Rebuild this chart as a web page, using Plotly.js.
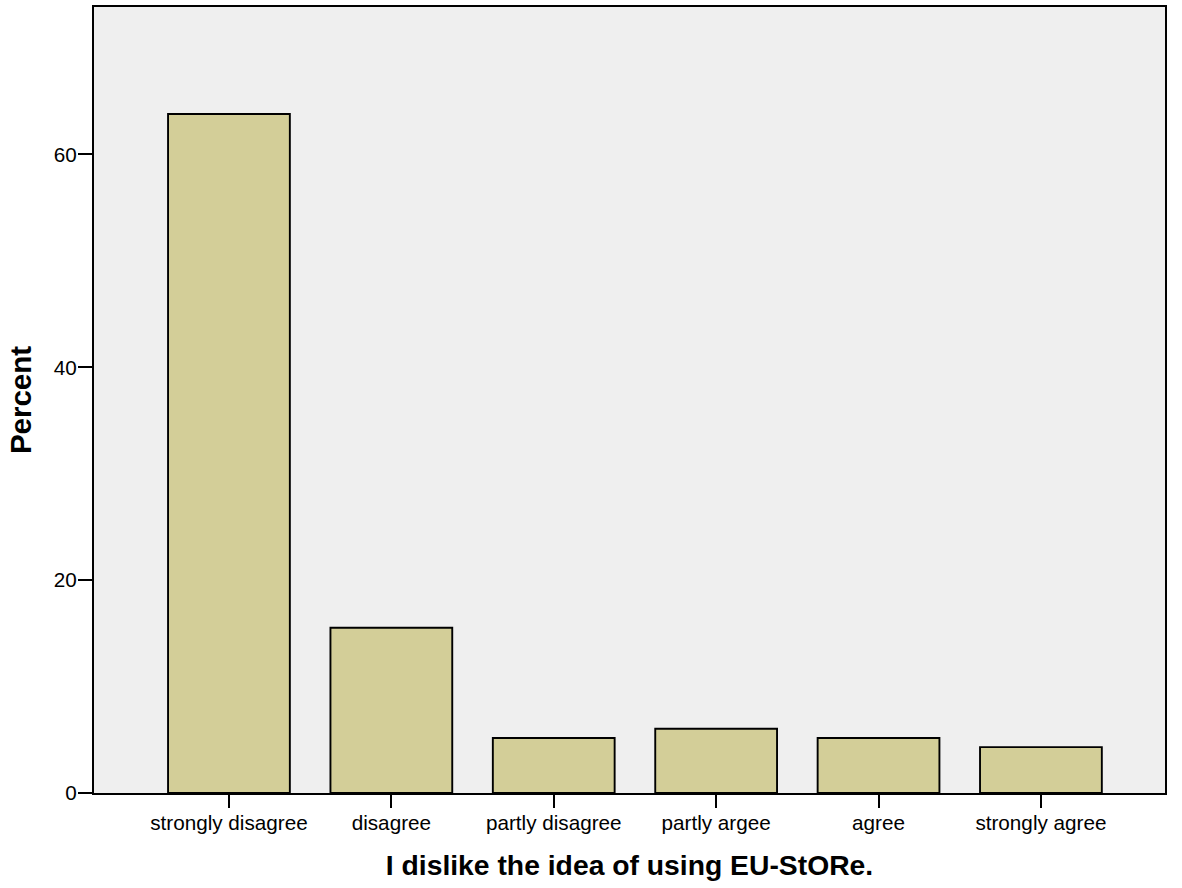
<!DOCTYPE html>
<html>
<head>
<meta charset="utf-8">
<script src="https://cdn.plot.ly/plotly-3.0.1.min.js"></script>
<style>html,body{margin:0;padding:0;background:#fff;}#chart{width:1182px;height:888px;}</style>
</head>
<body>
<div id="chart"></div>
<script>
var categories = ["strongly disagree", "disagree", "partly disagree", "partly argee", "agree", "strongly agree"];
var percentValues = [63.79, 15.52, 5.17, 6.03, 5.17, 4.31];
var yTickValues = [0, 20, 40, 60];
var yTickLabels = ["0", "20", "40", "60"];

var trace = {
  type: "bar",
  x: categories,
  y: percentValues,
  marker: {color: "#D3CE98", line: {color: "#000000", width: 1.9}},
  hoverinfo: "x+y"
};

var layout = {
  width: 1182,
  height: 888,
  margin: {l: 94, r: 17, t: 7, b: 95},
  paper_bgcolor: "#ffffff",
  plot_bgcolor: "#EFEFEF",
  bargap: 0.25,
  showlegend: false,
  font: {family: "Liberation Sans, Arial, sans-serif", color: "#000"},
  xaxis: {
    type: "category",
    range: [-0.831, 5.764],
    showline: true, linecolor: "#000", linewidth: 2, mirror: true,
    ticks: "outside", ticklen: 13, tickwidth: 2, tickcolor: "#000",
    ticklabelstandoff: -3,
    tickfont: {size: 20.7, family: "Liberation Sans, Arial, sans-serif"},
    showgrid: false, zeroline: false,
    title: {text: "<b>I dislike the idea of using EU-StORe.</b>", font: {size: 28.3, family: "Liberation Sans, Arial, sans-serif"}, standoff: 22}
  },
  yaxis: {
    range: [0, 73.85],
    tickvals: yTickValues, ticktext: yTickLabels,
    showline: true, linecolor: "#000", linewidth: 2, mirror: true,
    ticks: "outside", ticklen: 14, tickwidth: 2, tickcolor: "#000",
    ticklabelstandoff: -3,
    tickfont: {size: 20.7, family: "Liberation Sans, Arial, sans-serif"},
    showgrid: false, zeroline: false,
    title: {text: "<b>Percent</b>", font: {size: 29.5, family: "Liberation Sans, Arial, sans-serif"}, standoff: 14}
  }
};

Plotly.newPlot("chart", [trace], layout, {displayModeBar: false, staticPlot: true});
</script>
</body>
</html>
